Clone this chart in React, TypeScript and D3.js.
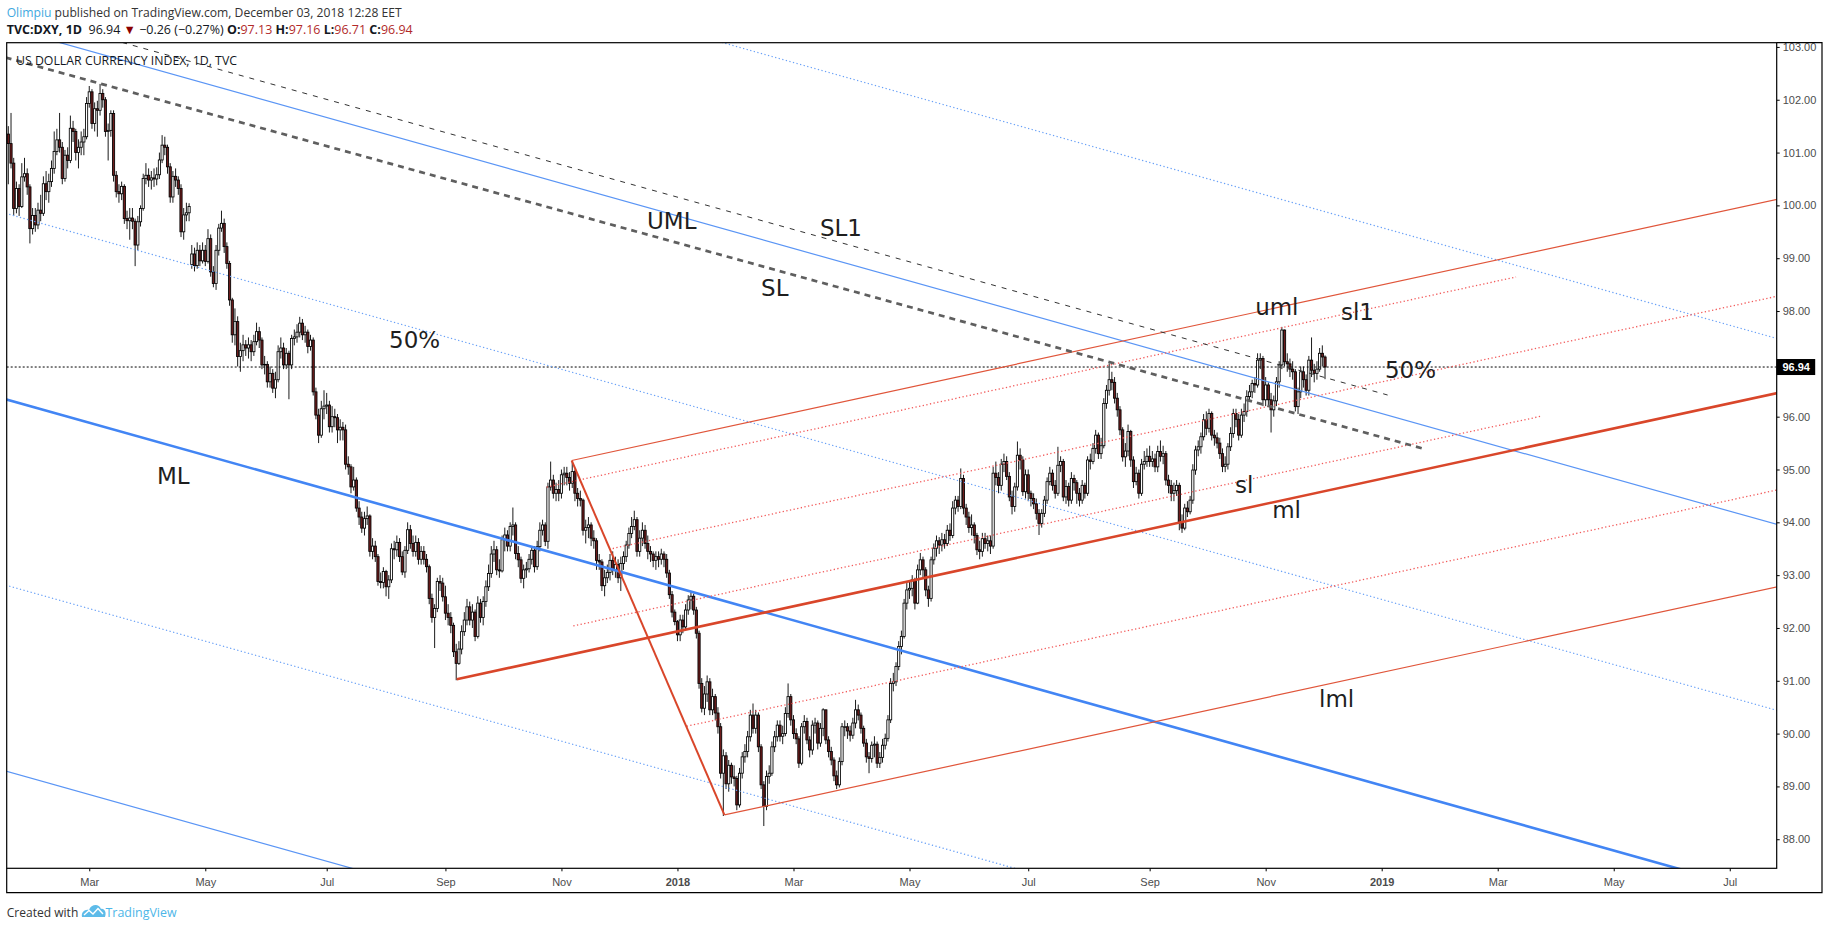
import { useEffect, useRef } from 'react';
import * as d3 from 'd3';

// [high, low, close, open?] – open defaults to the previous close
type Bar = [number, number, number, number?];

const firstOpen = 101.35;
const lastPrice = 96.94;
const priceTicks = [88, 89, 90, 91, 92, 93, 94, 95, 96, 97, 98, 99, 100, 101, 102, 103];
const startDate = new Date(2017, 0, 18);
const calendarEnd = new Date(2019, 7, 30);

const jan17: Bar[] = [
  [101.5, 100.4, 101.17], [101.75, 100.7, 100.8], [100.9, 99.8, 99.94], [100.45, 99.85, 100.32], [100.4, 99.8, 99.98],
  [100.8, 99.95, 100.54], [100.9, 100.45, 100.6], [100.7, 100.2, 100.35], [100.4, 99.28, 99.56], [99.95, 99.45, 99.81],
];
const feb17: Bar[] = [
  [99.95, 99.5, 99.63], [100.05, 99.55, 99.91], [100.2, 99.7, 99.85], [100.55, 99.8, 100.41], [100.65, 100.1, 100.26],
  [100.6, 100.05, 100.45], [100.85, 100.35, 100.7], [101.4, 100.6, 101.02], [101.45, 100.95, 101.24], [101.75, 101.0, 101.1],
  [101.2, 100.4, 100.51], [101.05, 100.45, 100.95], [101.1, 100.7, 100.85], [101.7, 100.8, 101.46], [101.6, 101.2, 101.4],
  [101.45, 100.85, 101.0], [101.25, 100.7, 101.1], [101.4, 100.95, 101.2], [101.45, 100.95, 101.3], [102.05, 101.25, 101.93],
];
const mar17: Bar[] = [
  [102.26, 101.85, 102.15], [102.2, 101.45, 101.55], [101.95, 101.4, 101.83], [101.98, 101.3, 101.8], [102.3, 101.7, 102.12],
  [102.2, 101.85, 102.0], [102.05, 101.3, 101.4], [101.55, 100.85, 101.42], [101.8, 101.3, 101.74], [101.8, 100.45, 100.57],
  [100.65, 100.15, 100.26], [100.4, 100.05, 100.22], [100.45, 100.1, 100.36], [100.4, 99.65, 99.75], [99.9, 99.55, 99.71],
  [99.95, 99.35, 99.76], [99.95, 99.55, 99.7], [99.75, 98.85, 99.25], [99.8, 99.15, 99.69], [100.0, 99.6, 99.94],
  [100.6, 99.9, 100.51], [100.8, 100.4, 100.57], [100.7, 100.35, 100.48],
];
const apr17: Bar[] = [
  [100.65, 100.3, 100.52], [100.7, 100.35, 100.5], [100.72, 100.38, 100.58], [101.0, 100.5, 100.86], [101.33, 100.8, 101.14],
  [101.3, 100.95, 101.1], [101.15, 100.6, 100.73], [100.8, 100.05, 100.16], [100.65, 100.05, 100.55], [100.7, 100.35, 100.48],
  [100.55, 100.2, 100.32], [100.4, 99.4, 99.5], [99.95, 99.35, 99.82], [100.05, 99.7, 99.86], [100.04, 99.7, 99.98],
  [99.25, 98.8, 99.08, 98.88], [99.2, 98.75, 98.86], [99.3, 98.8, 99.15], [99.25, 98.85, 98.95], [99.3, 98.9, 99.15],
];
const may17: Bar[] = [
  [99.25, 98.85, 98.94], [99.55, 98.9, 99.37], [99.45, 98.65, 98.74], [98.85, 98.45, 98.52], [99.25, 98.4, 99.15],
  [99.65, 99.05, 99.57], [99.9, 99.5, 99.66], [99.75, 99.1, 99.22], [99.3, 98.8, 98.9], [98.95, 98.1, 98.21],
  [98.25, 97.4, 97.55], [98.05, 97.35, 97.8], [97.9, 96.95, 97.14], [97.4, 96.85, 97.25], [97.55, 97.05, 97.36],
  [97.45, 97.15, 97.3], [97.5, 97.1, 97.36], [97.45, 97.05, 97.23], [97.55, 97.15, 97.42], [97.78, 97.35, 97.61],
  [97.7, 97.3, 97.45], [97.5, 96.9, 96.98], [97.15, 96.8, 96.99],
];
const jun17: Bar[] = [
  [97.05, 96.55, 96.66], [96.95, 96.55, 96.82], [96.9, 96.45, 96.54], [96.85, 96.35, 96.7], [97.35, 96.65, 97.23],
  [97.5, 97.1, 97.3], [97.4, 96.9, 96.98], [97.3, 96.9, 97.2], [97.25, 96.33, 96.98], [97.55, 96.9, 97.48],
  [97.65, 97.35, 97.51], [97.75, 97.4, 97.6], [97.89, 97.5, 97.77], [97.85, 97.45, 97.55], [97.72, 97.4, 97.6],
  [97.65, 97.2, 97.33], [97.55, 97.25, 97.45], [97.5, 96.4, 96.47], [96.55, 95.95, 96.03], [96.15, 95.5, 95.65],
  [96.3, 95.6, 96.15], [96.5, 95.95, 96.2],
];
const jul17: Bar[] = [
  [96.45, 96.05, 96.22], [96.3, 95.7, 95.81], [96.2, 95.7, 96.0], [96.15, 95.8, 95.98], [96.05, 95.5, 95.75],
  [95.95, 95.55, 95.8], [95.9, 95.55, 95.75], [95.85, 95.0, 95.1], [95.25, 94.9, 95.05], [95.1, 94.55, 94.67],
  [95.05, 94.6, 94.8], [94.85, 94.2, 94.27], [94.4, 93.95, 94.1], [94.2, 93.8, 93.89], [94.2, 93.75, 94.07],
  [94.3, 93.95, 94.12], [94.15, 93.35, 93.45], [93.7, 93.3, 93.55], [93.65, 93.25, 93.35], [93.4, 92.8, 92.88],
  [93.05, 92.75, 92.86],
];
const aug17: Bar[] = [
  [93.15, 92.75, 93.07], [93.1, 92.6, 92.78], [93.0, 92.55, 92.91], [93.6, 92.85, 93.5], [93.65, 93.3, 93.48],
  [93.75, 93.35, 93.62], [93.7, 93.25, 93.35], [93.45, 93.0, 93.06], [93.55, 92.95, 93.47], [94.0, 93.4, 93.86],
  [93.95, 93.5, 93.6], [93.75, 93.35, 93.45], [93.75, 93.35, 93.62], [93.7, 93.2, 93.3], [93.55, 93.2, 93.45],
  [93.55, 93.2, 93.3], [93.4, 93.05, 93.16], [93.2, 92.45, 92.56], [92.65, 92.1, 92.2], [92.45, 91.62, 92.37],
  [92.95, 92.3, 92.88], [93.0, 92.7, 92.85], [92.95, 92.5, 92.59],
];
const sep17: Bar[] = [
  [92.8, 92.15, 92.28], [92.45, 92.05, 92.2], [92.3, 91.9, 92.05], [92.1, 91.45, 91.55], [91.7, 91.01, 91.33],
  [91.75, 91.3, 91.6], [92.05, 91.5, 91.93], [92.3, 91.85, 92.15], [92.55, 92.05, 92.4], [92.5, 92.05, 92.15],
  [92.45, 92.0, 92.3], [92.35, 91.75, 91.84], [92.6, 91.8, 92.47], [92.55, 92.1, 92.2], [92.6, 92.05, 92.5],
  [92.9, 92.4, 92.78], [93.2, 92.7, 93.03], [93.55, 92.95, 93.4], [93.65, 93.25, 93.48], [93.55, 93.0, 93.1],
  [93.3, 92.95, 93.08],
];
const oct17: Bar[] = [
  [93.75, 93.05, 93.67], [93.9, 93.45, 93.76], [93.85, 93.45, 93.55], [94.0, 93.45, 93.92], [94.28, 93.75, 93.95],
  [94.0, 93.3, 93.41], [93.55, 93.15, 93.29], [93.35, 92.85, 92.94], [93.2, 92.75, 93.1], [93.25, 92.95, 93.12],
  [93.4, 93.05, 93.3], [93.55, 93.2, 93.47], [93.55, 93.05, 93.16], [93.65, 93.1, 93.54], [94.0, 93.45, 93.85],
  [94.05, 93.75, 93.95], [94.0, 93.55, 93.64], [94.75, 93.5, 94.67], [95.15, 94.6, 94.8], [94.9, 94.45, 94.55],
  [94.75, 94.4, 94.62], [94.8, 94.4, 94.55],
];
const nov17: Bar[] = [
  [95.0, 94.45, 94.9], [95.05, 94.7, 94.93], [95.05, 94.7, 94.85], [94.95, 94.6, 94.74], [95.15, 94.65, 94.96],
  [95.0, 94.4, 94.55], [94.65, 94.3, 94.45], [94.6, 94.3, 94.42], [94.45, 93.75, 93.85], [94.05, 93.6, 93.9],
  [94.1, 93.7, 93.95], [94.0, 93.55, 93.7], [93.85, 93.5, 93.65], [93.7, 93.1, 93.28], [93.4, 93.1, 93.25],
  [93.3, 92.7, 92.8], [93.1, 92.6, 92.95], [93.2, 92.85, 93.05], [93.4, 92.9, 93.28], [93.45, 93.0, 93.1],
  [93.35, 92.95, 93.2], [93.3, 92.85, 92.95],
];
const dec17: Bar[] = [
  [93.35, 92.7, 93.22], [93.45, 93.1, 93.35], [93.65, 93.25, 93.57], [93.9, 93.5, 93.79], [94.1, 93.7, 93.92],
  [94.22, 93.85, 94.05], [94.1, 93.35, 93.45], [93.85, 93.35, 93.7], [94.0, 93.55, 93.85], [93.95, 93.5, 93.6],
  [93.75, 93.3, 93.45], [93.55, 93.25, 93.4], [93.45, 93.15, 93.28], [93.45, 93.1, 93.35], [93.45, 93.15, 93.3],
  [93.5, 93.2, 93.4], [93.45, 93.15, 93.3], [93.4, 92.95, 93.04], [93.1, 92.55, 92.63], [92.7, 92.2, 92.3],
  [92.35, 92.05, 92.12],
];
const jan18: Bar[] = [
  [92.15, 91.75, 91.87], [92.25, 91.75, 92.15], [92.25, 91.9, 92.02], [92.45, 91.95, 92.34], [92.62, 92.25, 92.53],
  [92.68, 92.35, 92.6], [92.65, 92.25, 92.34], [92.4, 91.8, 91.9], [91.95, 90.85, 90.95], [91.05, 90.4, 90.48],
  [90.9, 90.35, 90.75], [91.1, 90.6, 90.98], [91.05, 90.35, 90.45], [90.85, 90.35, 90.7], [90.75, 90.25, 90.39],
  [90.5, 90.0, 90.13], [90.2, 89.15, 89.25], [89.7, 88.44, 89.58], [89.65, 88.95, 89.05], [89.5, 88.9, 89.4],
  [89.45, 89.05, 89.18], [89.4, 89.0, 89.15], [89.2, 88.55, 88.65],
];
const feb18: Bar[] = [
  [89.35, 88.6, 89.25], [89.65, 89.15, 89.56], [89.8, 89.45, 89.66], [90.05, 89.55, 89.94], [90.45, 89.85, 90.35],
  [90.57, 90.0, 90.1], [90.45, 90.0, 90.35], [90.4, 89.65, 89.75], [89.8, 88.95, 89.03], [89.1, 88.25, 88.62],
  [89.3, 88.55, 89.19], [89.4, 89.05, 89.25], [89.85, 89.2, 89.75], [90.05, 89.65, 89.94], [90.25, 89.85, 90.16],
  [90.25, 89.85, 89.95], [90.15, 89.8, 90.0], [90.5, 89.95, 90.38], [90.95, 90.3, 90.7], [90.75, 90.15, 90.26],
];
const mar18: Bar[] = [
  [90.35, 89.9, 90.0], [90.1, 89.8, 89.9], [89.95, 89.35, 89.44], [90.2, 89.4, 90.13], [90.35, 90.0, 90.23],
  [90.3, 89.8, 89.88], [89.95, 89.55, 89.69], [90.25, 89.6, 90.16], [90.3, 90.0, 90.2], [90.25, 89.7, 89.82],
  [90.2, 89.75, 90.1], [90.48, 89.95, 90.45], [90.45, 89.8, 89.88], [89.95, 89.55, 89.66], [89.75, 89.4, 89.5],
  [89.55, 89.1, 89.2], [89.3, 88.95, 89.03], [89.55, 88.98, 89.47], [90.2, 89.4, 90.13], [90.25, 89.95, 90.13],
  [90.2, 89.9, 90.05], [90.15, 89.85, 89.97],
];
const apr18: Bar[] = [
  [90.3, 89.9, 90.2], [90.64, 90.1, 90.45], [90.55, 90.25, 90.35], [90.4, 90.0, 90.1], [90.15, 89.75, 89.82],
  [89.9, 89.45, 89.56], [89.65, 89.25, 89.53], [89.85, 89.45, 89.78], [89.95, 89.55, 89.8], [89.85, 89.35, 89.44],
  [89.65, 89.35, 89.55], [89.9, 89.45, 89.78], [90.0, 89.7, 89.91], [90.35, 89.85, 90.26], [91.05, 90.2, 90.95],
  [91.15, 90.8, 90.98], [91.35, 90.9, 91.27], [91.75, 91.2, 91.65], [91.95, 91.5, 91.84], [92.55, 91.8, 92.47],
  [92.85, 92.35, 92.72],
];
const may18: Bar[] = [
  [92.9, 92.55, 92.75], [93.0, 92.6, 92.91], [92.95, 92.35, 92.47], [93.2, 92.45, 93.1], [93.42, 93.0, 93.29],
  [93.35, 92.95, 93.1], [93.15, 92.6, 92.72], [92.8, 92.4, 92.56], [93.35, 92.5, 93.29], [93.6, 93.2, 93.51],
  [93.75, 93.35, 93.65], [93.72, 93.4, 93.57], [93.8, 93.45, 93.67], [93.78, 93.5, 93.6], [93.95, 93.55, 93.85],
  [93.98, 93.65, 93.75], [94.4, 93.7, 94.27], [94.5, 94.15, 94.42], [94.5, 94.2, 94.3], [95.02, 94.25, 94.83],
  [94.9, 94.15, 94.27], [94.35, 93.95, 94.1], [94.2, 93.8, 93.9],
];
const jun18: Bar[] = [
  [94.15, 93.75, 93.95], [94.0, 93.6, 93.75], [93.8, 93.38, 93.48], [93.65, 93.3, 93.45], [93.8, 93.35, 93.69],
  [93.8, 93.5, 93.6], [93.75, 93.45, 93.65], [93.75, 93.4, 93.55], [95.05, 93.5, 94.93], [95.15, 94.7, 94.85],
  [94.95, 94.55, 94.7], [95.2, 94.6, 95.1], [95.3, 94.95, 95.15], [95.25, 94.8, 94.87], [94.95, 94.4, 94.48],
  [94.6, 94.15, 94.3], [94.75, 94.2, 94.67], [95.53, 94.6, 95.27], [95.4, 95.0, 95.18], [95.25, 94.5, 94.58],
  [95.0, 94.45, 94.9],
];
const jul18: Bar[] = [
  [95.0, 94.4, 94.55], [94.6, 94.3, 94.45], [94.55, 94.25, 94.35], [94.45, 94.05, 94.17], [94.25, 93.76, 93.98],
  [94.25, 93.9, 94.17], [94.5, 94.1, 94.42], [94.85, 94.35, 94.77], [95.05, 94.7, 94.93], [95.0, 94.6, 94.7],
  [94.8, 94.45, 94.55], [95.43, 94.5, 95.08], [95.25, 94.95, 95.15], [95.2, 94.4, 94.48], [94.8, 94.35, 94.68],
  [94.75, 94.3, 94.42], [94.95, 94.35, 94.83], [94.9, 94.6, 94.75], [94.8, 94.35, 94.55], [94.65, 94.3, 94.42],
  [94.8, 94.35, 94.7], [94.75, 94.45, 94.55],
];
const aug18: Bar[] = [
  [95.25, 94.5, 95.18], [95.3, 95.0, 95.15], [95.5, 95.1, 95.4], [95.75, 95.3, 95.65], [95.7, 95.2, 95.3],
  [95.6, 95.2, 95.45], [96.35, 95.4, 96.25], [96.6, 96.15, 96.5], [97.01, 96.4, 96.7], [96.85, 96.5, 96.65],
  [96.75, 96.25, 96.35], [96.45, 96.0, 96.13], [96.2, 95.65, 95.75], [95.8, 95.15, 95.24], [95.5, 95.05, 95.35],
  [95.85, 95.25, 95.72], [95.75, 95.05, 95.18], [95.25, 94.65, 94.77], [95.05, 94.7, 94.93], [95.0, 94.45, 94.55],
  [95.2, 94.5, 95.1], [95.35, 95.0, 95.15], [95.4, 95.05, 95.25],
];
const sep18: Bar[] = [
  [95.45, 95.05, 95.15], [95.35, 95.05, 95.2], [95.3, 94.95, 95.05], [95.45, 94.95, 95.34], [95.55, 95.15, 95.25],
  [95.45, 95.1, 95.3], [95.35, 94.7, 94.8], [94.9, 94.55, 94.7], [94.8, 94.4, 94.55], [94.75, 94.4, 94.6],
  [94.8, 94.5, 94.7], [94.75, 93.85, 94.0], [94.15, 93.8, 93.89], [94.35, 93.85, 94.27], [94.4, 94.1, 94.2],
  [94.5, 94.15, 94.42], [95.1, 94.35, 94.99], [95.45, 94.9, 95.37], [95.55, 95.25, 95.43], [95.7, 95.3, 95.62],
];
const oct18: Bar[] = [
  [96.05, 95.55, 95.94], [96.1, 95.65, 95.78], [96.15, 95.7, 96.06], [96.1, 95.55, 95.65], [95.75, 95.45, 95.6],
  [95.7, 95.4, 95.5], [95.6, 95.2, 95.3], [95.4, 94.95, 95.06], [95.25, 94.95, 95.1], [95.5, 95.0, 95.43],
  [95.8, 95.35, 95.68], [96.15, 95.6, 96.06], [96.15, 95.8, 95.95], [96.05, 95.55, 95.65], [96.15, 95.6, 96.03],
  [96.25, 95.9, 96.1], [96.5, 96.0, 96.38], [96.6, 96.3, 96.47], [96.7, 96.35, 96.63], [96.75, 96.45, 96.6],
  [97.2, 96.55, 97.07], [97.2, 96.9, 97.1], [97.15, 96.2, 96.32],
];
const nov18: Bar[] = [
  [96.75, 96.2, 96.6], [96.65, 96.2, 96.32], [96.45, 95.7, 96.13], [96.4, 96.0, 96.3], [96.75, 96.2, 96.66],
  [97.05, 96.55, 96.98], [97.7, 96.9, 97.64], [97.65, 96.95, 97.04], [97.2, 96.85, 97.0], [97.1, 96.75, 96.9],
  [97.05, 96.7, 96.85], [96.9, 96.1, 96.19], [96.55, 96.05, 96.47], [96.95, 96.35, 96.85], [96.95, 96.55, 96.7],
  [96.8, 96.4, 96.5], [97.15, 96.4, 97.07], [97.5, 96.75, 96.88], [97.0, 96.65, 96.82], [97.05, 96.7, 96.9],
  [97.3, 96.85, 97.2], [97.35, 96.95, 97.13],
];
const dec18: Bar[] = [[97.16, 96.71, 96.94]];

const monthlyBars: Bar[][] = [
  jan17, feb17, mar17, apr17, may17, jun17, jul17, aug17, sep17, oct17, nov17, dec17,
  jan18, feb18, mar18, apr18, may18, jun18, jul18, aug18, sep18, oct18, nov18, dec18,
];

// drawings, as [bar index, price] end points
const blueMedian = [[-1, 96.33], [660, 86.855]];
const blueUpper = [[-1, 103.37], [660, 93.895]];
const blueLower = [[-1, 89.29], [660, 79.815]];
const blueHalfUp = [[-1, 99.85], [660, 90.375]];
const blueHalfDown = [[-1, 92.81], [660, 83.335]];
const blueOuter = [[-1, 106.89], [660, 97.415]];
const slLine = [[-1, 102.8], [524, 95.4]];
const sl1Line = [[-1, 103.7], [511.2, 96.41]];
const redHandle = [[208.8, 95.17], [265.4, 88.46]];
const redMedian = [[166.2, 91.03], [660, 96.496]];
const redUpper = [[208.8, 95.17], [660, 100.165]];
const redLower = [[265.4, 88.46], [660, 92.828]];
const redSl1 = [[199.5, 94.667], [558.8, 98.645]];
const redHalfUp = [[224, 93.504], [660, 98.33]];
const redSl = [[209.4, 92.038], [568.3, 96.011]];
const redHalfDown = [[251.4, 90.139], [660, 94.662]];

const labelText = ['UML', 'SL1', 'SL', '50%', 'ML', 'uml', 'sl1', '50%', 'sl', 'ml', 'lml'];
const labelAt = [
  [236.7, 99.55], [300.8, 99.42], [279, 98.29], [141.1, 97.3], [55.1, 94.73], [462.1, 97.93],
  [493.9, 97.83], [510.2, 96.73], [454.6, 94.56], [468.4, 94.08], [485.8, 90.51],
];

const App = () => {
  const ref = useRef<SVGSVGElement | null>(null);

  useEffect(() => {
    const svg = d3.select(ref.current);
    svg.selectAll('*').remove();

    const frame = { left: 6.7, top: 42.7, right: 1776.7, bottom: 868.3, outerRight: 1822, outerBottom: 892.7 };

    const bars: { i: number; open: number; high: number; low: number; close: number }[] = [];
    let prev = firstOpen;
    monthlyBars.flat().forEach((b, i) => {
      const open = b[3] ?? prev;
      bars.push({ i, open, high: b[0], low: b[1], close: b[2] });
      prev = b[2];
    });

    const x = d3.scaleLinear().domain([-0.6, 655.4]).range([frame.left, frame.right]);
    const y = d3.scaleLinear().domain([87.45, 103.08]).range([frame.bottom, frame.top]);

    svg.append('rect').attr('width', 1828).attr('height', 930).attr('fill', '#fff');

    const defs = svg.append('defs');
    defs.append('clipPath').attr('id', 'plotClip').append('rect')
      .attr('x', frame.left).attr('y', frame.top)
      .attr('width', frame.right - frame.left).attr('height', frame.bottom - frame.top);
    defs.append('clipPath').attr('id', 'axisClip').append('rect')
      .attr('x', frame.right).attr('y', frame.top)
      .attr('width', frame.outerRight - frame.right).attr('height', frame.bottom - frame.top + 10);

    const plot = svg.append('g').attr('clip-path', 'url(#plotClip)');

    // candles
    const candles = plot.append('g');
    candles.selectAll('line').data(bars).join('line')
      .attr('x1', d => x(d.i)).attr('x2', d => x(d.i))
      .attr('y1', d => y(d.high)).attr('y2', d => y(d.low))
      .attr('stroke', '#000').attr('stroke-width', 0.9);
    candles.selectAll('rect').data(bars).join('rect')
      .attr('x', d => x(d.i) - 1.1).attr('width', 2.2)
      .attr('y', d => y(Math.max(d.open, d.close)))
      .attr('height', d => Math.max(0.6, Math.abs(y(d.open) - y(d.close))))
      .attr('fill', d => (d.close >= d.open ? '#fff' : '#6d1c1c'))
      .attr('stroke', '#000').attr('stroke-width', 0.85);

    // last price line
    plot.append('line')
      .attr('x1', frame.left).attr('x2', frame.right)
      .attr('y1', y(lastPrice)).attr('y2', y(lastPrice))
      .attr('stroke', '#000').attr('stroke-width', 1).attr('stroke-dasharray', '2 2');

    // pitchfork drawings
    const line = d3.line<number[]>().x(d => x(d[0])).y(d => y(d[1]));
    const dotted = '1.3 2.4';
    const drawings = [
      { pts: blueOuter, stroke: '#6aa1f7', width: 1.2, dash: dotted },
      { pts: blueHalfUp, stroke: '#6aa1f7', width: 1.2, dash: dotted },
      { pts: blueHalfDown, stroke: '#6aa1f7', width: 1.2, dash: dotted },
      { pts: blueUpper, stroke: '#5a95f5', width: 1.2, dash: null },
      { pts: blueLower, stroke: '#5a95f5', width: 1.2, dash: null },
      { pts: blueMedian, stroke: '#4285f4', width: 2.6, dash: null },
      { pts: redSl1, stroke: '#f25b5b', width: 1.3, dash: dotted },
      { pts: redHalfUp, stroke: '#f25b5b', width: 1.3, dash: dotted },
      { pts: redSl, stroke: '#f25b5b', width: 1.3, dash: dotted },
      { pts: redHalfDown, stroke: '#f25b5b', width: 1.3, dash: dotted },
      { pts: redUpper, stroke: '#e0553a', width: 1.2, dash: null },
      { pts: redLower, stroke: '#e0553a', width: 1.2, dash: null },
      { pts: redHandle, stroke: '#d9462a', width: 2, dash: null },
      { pts: redMedian, stroke: '#d9462a', width: 2.6, dash: null },
      { pts: sl1Line, stroke: '#333', width: 1, dash: '5 6' },
      { pts: slLine, stroke: '#5f5f5f', width: 2.7, dash: '6 5' },
    ];
    plot.append('g').selectAll('path').data(drawings).join('path')
      .attr('d', d => line(d.pts))
      .attr('fill', 'none')
      .attr('stroke', d => d.stroke)
      .attr('stroke-width', d => d.width)
      .attr('stroke-dasharray', d => d.dash);

    plot.append('g').selectAll('text').data(labelText).join('text')
      .attr('x', (d, k) => x(labelAt[k][0]))
      .attr('y', (d, k) => y(labelAt[k][1]))
      .attr('font-family', 'DejaVu Sans, sans-serif')
      .attr('font-size', 23)
      .attr('fill', '#1e1e1e')
      .text(d => d);

    // price axis
    const yAxis = svg.append('g').attr('clip-path', 'url(#axisClip)')
      .append('g').attr('transform', `translate(${frame.right},0)`)
      .call(d3.axisRight(y).tickValues(priceTicks).tickFormat(d3.format('.2f')).tickSize(3).tickPadding(3));
    yAxis.select('.domain').remove();
    yAxis.attr('font-family', 'Liberation Sans, Arial, sans-serif').attr('font-size', 11);
    yAxis.selectAll('text').attr('fill', '#4c4c4c');
    yAxis.selectAll('line').attr('stroke', '#000');

    const box = svg.append('g').attr('transform', `translate(${frame.right},${y(lastPrice)})`);
    box.append('rect').attr('x', 0).attr('y', -8).attr('width', 38.5).attr('height', 16).attr('fill', '#000');
    box.append('text').attr('x', 19.5).attr('y', 4)
      .attr('text-anchor', 'middle').attr('fill', '#fff')
      .attr('font-family', 'Liberation Sans, Arial, sans-serif').attr('font-size', 11).attr('font-weight', 'bold')
      .text(lastPrice.toFixed(2));

    // time axis: first weekday of every second month
    const days: Date[] = [];
    for (const d = new Date(startDate); d <= calendarEnd; d.setDate(d.getDate() + 1)) {
      if (d.getDay() !== 0 && d.getDay() !== 6) days.push(new Date(d));
    }
    const tickLabels = new Map<number, string>();
    const yearTicks = new Set<number>();
    days.forEach((d, k) => {
      if (k === 0 || d.getMonth() === days[k - 1].getMonth() || d.getMonth() % 2 !== 0) return;
      if (d.getMonth() === 0) {
        tickLabels.set(k, String(d.getFullYear()));
        yearTicks.add(k);
      } else tickLabels.set(k, d3.timeFormat('%b')(d));
    });
    const xAxis = svg.append('g').attr('transform', `translate(0,${frame.bottom})`)
      .call(d3.axisBottom(x).tickValues([...tickLabels.keys()])
        .tickFormat(k => tickLabels.get(k as number) ?? '').tickSize(3).tickPadding(6.6));
    xAxis.select('.domain').remove();
    xAxis.attr('font-family', 'Liberation Sans, Arial, sans-serif').attr('font-size', 11);
    xAxis.selectAll('text').attr('fill', '#4c4c4c')
      .attr('font-weight', k => (yearTicks.has(k as number) ? 'bold' : 'normal'));
    xAxis.selectAll('line').attr('stroke', '#000');

    // frames
    svg.append('rect')
      .attr('x', frame.left).attr('y', frame.top)
      .attr('width', frame.right - frame.left).attr('height', frame.bottom - frame.top)
      .attr('fill', 'none').attr('stroke', '#000').attr('stroke-width', 1.2);
    svg.append('path')
      .attr('d', `M${frame.right},${frame.top}H${frame.outerRight}V${frame.outerBottom}H${frame.left}V${frame.bottom}`)
      .attr('fill', 'none').attr('stroke', '#000').attr('stroke-width', 1.2);

    // header
    const head = svg.append('g').attr('font-family', 'Open Sans, sans-serif').attr('font-size', 12.5);
    const h1 = head.append('text').attr('x', 6.7).attr('y', 16.7)
      .attr('textLength', 395).attr('lengthAdjust', 'spacingAndGlyphs');
    h1.append('tspan').attr('fill', '#3fa9e0').text('Olimpiu');
    h1.append('tspan').attr('fill', '#333').text(' published on TradingView.com, December 03, 2018 12:28 EET');

    const h2 = head.append('text').attr('x', 6.7).attr('y', 34.3)
      .attr('textLength', 406).attr('lengthAdjust', 'spacingAndGlyphs').attr('fill', '#131722')
      .style('white-space', 'pre');
    const parts: [string, string, boolean][] = [
      ['TVC:DXY, 1D', '#131722', true], ['  96.94 ', '#131722', false], ['▼', '#8b0000', false],
      [' −0.26 (−0.27%) ', '#131722', false], ['O:', '#131722', true], ['97.13', '#b22a2a', false],
      [' H:', '#131722', true], ['97.16', '#b22a2a', false], [' L:', '#131722', true], ['96.71', '#b22a2a', false],
      [' C:', '#131722', true], ['96.94', '#b22a2a', false],
    ];
    parts.forEach(([t, c, b]) => {
      h2.append('tspan').attr('fill', c).attr('font-weight', b ? 'bold' : 'normal').text(t);
    });

    svg.append('text').attr('x', 16).attr('y', 65)
      .attr('font-family', 'Open Sans, sans-serif').attr('font-size', 13).attr('fill', '#131722')
      .attr('textLength', 221).attr('lengthAdjust', 'spacingAndGlyphs')
      .text('US DOLLAR CURRENCY INDEX, 1D, TVC');

    // footer
    const foot = svg.append('g').attr('font-family', 'Open Sans, sans-serif').attr('font-size', 13);
    foot.append('text').attr('x', 6.7).attr('y', 916.7).attr('fill', '#333')
      .attr('textLength', 71.6).attr('lengthAdjust', 'spacingAndGlyphs').text('Created with');
    foot.append('path')
      .attr('d', 'M82,917 C81,912 85,909 89,910 C91,904 99,903 101,909 C104,908 107,912 105,917 Z')
      .attr('fill', '#5dbbe9');
    foot.append('polyline').attr('points', '84,915 89,910.5 93,914 98,908.5 103,914')
      .attr('fill', 'none').attr('stroke', '#fff').attr('stroke-width', 1.4);
    foot.append('text').attr('x', 105.5).attr('y', 916.7).attr('fill', '#4db6e8')
      .attr('textLength', 71).attr('lengthAdjust', 'spacingAndGlyphs').text('TradingView');
  }, []);

  return (
    <svg
      ref={ref}
      width={1828}
      height={930}
      style={{ position: 'absolute', left: 0, top: 0, background: '#fff' }}
    />
  );
};

export default App;
